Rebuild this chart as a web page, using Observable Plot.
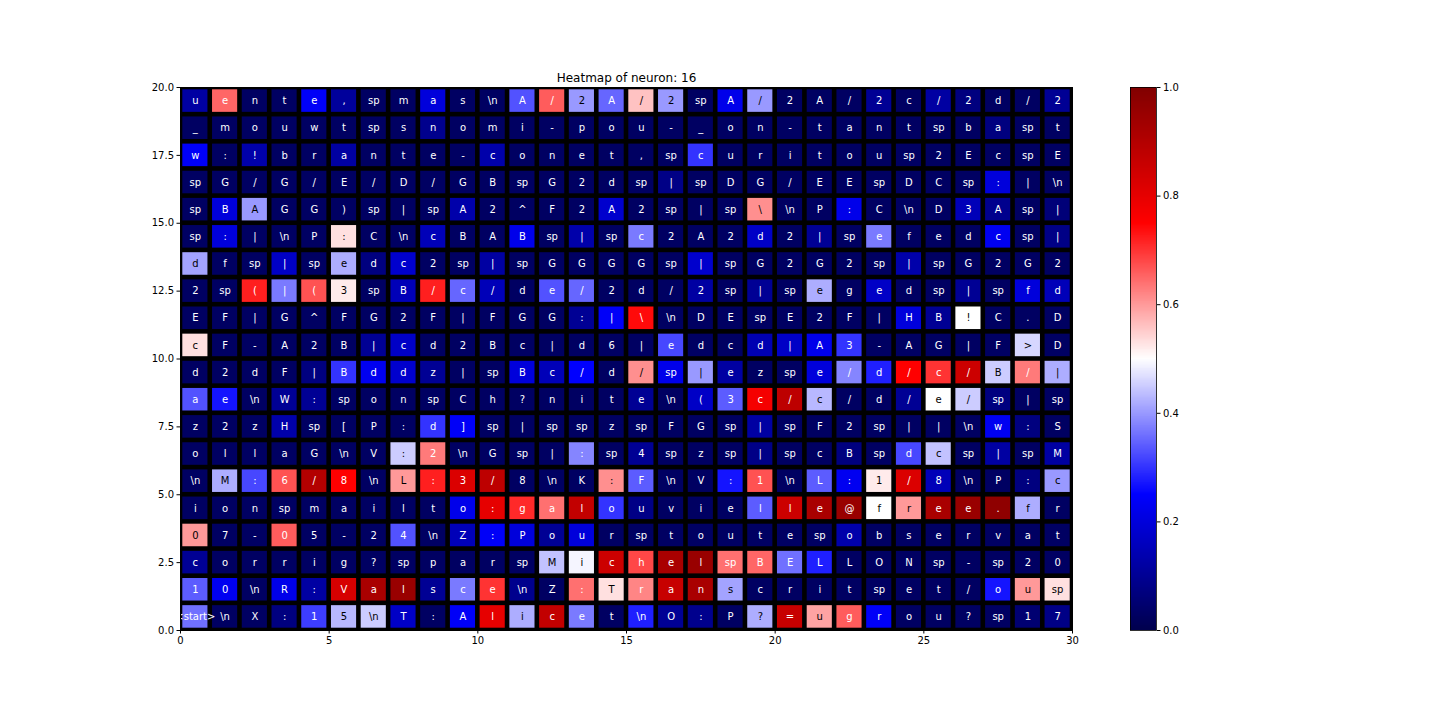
<!DOCTYPE html>
<html>
<head>
<meta charset="utf-8">
<script src="https://cdn.jsdelivr.net/npm/d3@7"></script>
<script src="https://cdn.jsdelivr.net/npm/@observablehq/plot@0.6"></script>
<style>
  html, body { margin: 0; padding: 0; background: white; }
  #wrap { position: relative; width: 1440px; height: 720px; }
  #wrap svg { position: absolute; left: 0; top: 0; }
</style>
</head>
<body>
<div id="wrap"></div>
<script>
const title = "Heatmap of neuron: 16";
const xTicks = [0, 5, 10, 15, 20, 25, 30];
const yTicks = [0, 2.5, 5, 7.5, 10, 12.5, 15, 17.5, 20];
const colorbarTicks = [0, 0.2, 0.4, 0.6, 0.8, 1.0];
const seismicStops = ["#00004d", "#0000ff", "#ffffff", "#ff0000", "#800000"];

// Rows listed top (y = 19) to bottom (y = 0)
const rowLabels = [
  ["u","e","n","t","e",",","sp","m","a","s","\\n","A","/","2","A","/","2","sp","A","/","2","A","/","2","c","/","2","d","/","2"],
  ["_","m","o","u","w","t","sp","s","n","o","m","i","-","p","o","u","-","_","o","n","-","t","a","n","t","sp","b","a","sp","t"],
  ["w",":","!","b","r","a","n","t","e","-","c","o","n","e","t",",","sp","c","u","r","i","t","o","u","sp","2","E","c","sp","E"],
  ["sp","G","/","G","/","E","/","D","/","G","B","sp","G","2","d","sp","|","sp","D","G","/","E","E","sp","D","C","sp",":","|","\\n"],
  ["sp","B","A","G","G",")","sp","|","sp","A","2","^","F","2","A","2","sp","|","sp","\\","\\n","P",":","C","\\n","D","3","A","sp","|"],
  ["sp",":","|","\\n","P",":","C","\\n","c","B","A","B","sp","|","sp","c","2","A","2","d","2","|","sp","e","f","e","d","c","sp","|"],
  ["d","f","sp","|","sp","e","d","c","2","sp","|","sp","G","G","G","G","sp","|","sp","G","2","G","2","sp","|","sp","G","2","G","2"],
  ["2","sp","(","|","(","3","sp","B","/","c","/","d","e","/","2","d","/","2","sp","|","sp","e","g","e","d","sp","|","sp","f","d"],
  ["E","F","|","G","^","F","G","2","F","|","F","G","G",":","|","\\","\\n","D","E","sp","E","2","F","|","H","B","!","C",".","D"],
  ["c","F","-","A","2","B","|","c","d","2","B","c","|","d","6","|","e","d","c","d","|","A","3","-","A","G","|","F",">","D"],
  ["d","2","d","F","|","B","d","d","z","|","sp","B","c","/","d","/","sp","|","e","z","sp","e","/","d","/","c","/","B","/","|"],
  ["a","e","\\n","W",":","sp","o","n","sp","C","h","?","n","i","t","e","\\n","(","3","c","/","c","/","d","/","e","/","sp","|","sp"],
  ["z","2","z","H","sp","[","P",":","d","]","sp","|","sp","sp","z","sp","F","G","sp","|","sp","F","2","sp","|","|","\\n","w",":","S"],
  ["o","l","l","a","G","\\n","V",":","2","\\n","G","sp","|",":","sp","4","sp","z","sp","|","sp","c","B","sp","d","c","sp","|","sp","M"],
  ["\\n","M",":","6","/","8","\\n","L",":","3","/","8","\\n","K",":","F","\\n","V",":","1","\\n","L",":","1","/","8","\\n","P",":","c"],
  ["i","o","n","sp","m","a","i","l","t","o",":","g","a","l","o","u","v","i","e","l","l","e","@","f","r","e","e",".","f","r"],
  ["0","7","-","0","5","-","2","4","\\n","Z",":","P","o","u","r","sp","t","o","u","t","e","sp","o","b","s","e","r","v","a","t"],
  ["c","o","r","r","i","g","?","sp","p","a","r","sp","M","i","c","h","e","l","sp","B","E","L","L","O","N","sp","-","sp","2","0"],
  ["1","0","\\n","R",":","V","a","l","s","c","e","\\n","Z",":","T","r","a","n","s","c","r","i","t","sp","e","t","/","o","u","sp"],
  ["<start>","\\n","X",":","1","5","\\n","T",":","A","l","i","c","e","t","\\n","O",":","P","?","=","u","g","r","o","u","?","sp","1","7"]
];

const rowValues = [
  [0.12,0.65,0.03,0.03,0.24,0.11,0.03,0.03,0.2,0.03,0.03,0.33,0.66,0.4,0.35,0.56,0.4,0.03,0.22,0.4,0.03,0.03,0.03,0.1,0.03,0.12,0.07,0.03,0.03,0.1],
  [0.03,0.03,0.03,0.03,0.03,0.03,0.03,0.03,0.09,0.03,0.03,0.03,0.03,0.03,0.03,0.03,0.03,0.03,0.03,0.03,0.03,0.03,0.03,0.03,0.03,0.03,0.03,0.07,0.03,0.03],
  [0.24,0.03,0.13,0.03,0.03,0.12,0.03,0.03,0.03,0.03,0.13,0.03,0.03,0.03,0.03,0.03,0.03,0.3,0.03,0.03,0.03,0.03,0.03,0.03,0.03,0.03,0.03,0.03,0.03,0.03],
  [0.03,0.03,0.03,0.03,0.03,0.03,0.03,0.03,0.03,0.03,0.03,0.03,0.03,0.03,0.03,0.03,0.08,0.03,0.03,0.03,0.03,0.03,0.03,0.03,0.03,0.03,0.03,0.2,0.03,0.03],
  [0.03,0.2,0.4,0.03,0.03,0.03,0.03,0.03,0.03,0.13,0.03,0.03,0.03,0.03,0.18,0.03,0.03,0.03,0.03,0.61,0.03,0.03,0.22,0.03,0.03,0.03,0.15,0.09,0.03,0.06],
  [0.03,0.2,0.03,0.03,0.03,0.53,0.03,0.03,0.15,0.03,0.03,0.22,0.03,0.13,0.03,0.37,0.03,0.03,0.03,0.17,0.03,0.1,0.03,0.37,0.03,0.03,0.03,0.23,0.03,0.08],
  [0.41,0.03,0.03,0.17,0.03,0.42,0.07,0.18,0.03,0.03,0.12,0.03,0.03,0.03,0.03,0.03,0.03,0.18,0.03,0.03,0.03,0.03,0.03,0.03,0.13,0.03,0.03,0.03,0.03,0.03],
  [0.03,0.03,0.72,0.37,0.67,0.52,0.03,0.15,0.72,0.35,0.15,0.03,0.33,0.35,0.03,0.03,0.03,0.12,0.03,0.1,0.03,0.42,0.03,0.17,0.03,0.03,0.1,0.03,0.2,0.15],
  [0.03,0.03,0.03,0.03,0.03,0.03,0.03,0.03,0.03,0.03,0.03,0.03,0.03,0.1,0.24,0.74,0.03,0.03,0.03,0.03,0.03,0.03,0.03,0.03,0.2,0.1,0.5,0.03,0.03,0.03],
  [0.53,0.03,0.03,0.03,0.03,0.03,0.1,0.17,0.03,0.03,0.03,0.03,0.03,0.03,0.03,0.03,0.32,0.03,0.03,0.14,0.17,0.22,0.3,0.03,0.03,0.03,0.03,0.03,0.46,0.03],
  [0.03,0.03,0.03,0.03,0.07,0.3,0.23,0.18,0.1,0.03,0.03,0.2,0.15,0.25,0.03,0.61,0.22,0.4,0.12,0.03,0.03,0.2,0.38,0.28,0.75,0.7,0.85,0.45,0.63,0.42],
  [0.33,0.27,0.03,0.1,0.1,0.03,0.03,0.03,0.03,0.03,0.03,0.03,0.03,0.03,0.03,0.1,0.03,0.17,0.34,0.77,0.88,0.43,0.03,0.03,0.1,0.5,0.45,0.07,0.03,0.03],
  [0.03,0.03,0.03,0.13,0.03,0.03,0.03,0.03,0.3,0.24,0.03,0.03,0.03,0.03,0.03,0.03,0.03,0.03,0.03,0.12,0.03,0.03,0.03,0.03,0.03,0.03,0.03,0.23,0.07,0.03],
  [0.03,0.03,0.03,0.03,0.03,0.03,0.03,0.45,0.63,0.03,0.03,0.03,0.03,0.38,0.03,0.1,0.03,0.03,0.03,0.08,0.03,0.03,0.07,0.03,0.32,0.44,0.03,0.12,0.03,0.12],
  [0.03,0.42,0.32,0.67,0.9,0.75,0.03,0.6,0.72,0.82,0.88,0.03,0.03,0.03,0.61,0.34,0.03,0.03,0.27,0.67,0.03,0.34,0.23,0.52,0.82,0.15,0.03,0.03,0.07,0.4],
  [0.03,0.03,0.03,0.03,0.03,0.03,0.03,0.03,0.03,0.22,0.8,0.71,0.64,0.87,0.3,0.08,0.03,0.03,0.03,0.34,0.85,0.92,0.95,0.5,0.6,0.92,0.95,0.97,0.42,0.03],
  [0.6,0.03,0.03,0.66,0.03,0.03,0.03,0.33,0.03,0.15,0.24,0.2,0.1,0.2,0.03,0.03,0.03,0.03,0.03,0.03,0.03,0.03,0.13,0.03,0.03,0.03,0.03,0.03,0.03,0.03],
  [0.1,0.03,0.03,0.03,0.03,0.03,0.03,0.03,0.03,0.03,0.03,0.03,0.44,0.49,0.85,0.68,0.92,0.95,0.64,0.65,0.36,0.28,0.03,0.03,0.03,0.03,0.03,0.03,0.03,0.03],
  [0.34,0.23,0.03,0.22,0.12,0.83,0.92,0.95,0.1,0.37,0.7,0.09,0.03,0.64,0.53,0.62,0.86,0.92,0.41,0.03,0.03,0.03,0.03,0.03,0.03,0.03,0.03,0.27,0.6,0.53],
  [0.36,0.03,0.03,0.07,0.31,0.43,0.45,0.17,0.03,0.24,0.8,0.42,0.87,0.37,0.03,0.28,0.1,0.09,0.03,0.42,0.86,0.59,0.66,0.24,0.03,0.03,0.03,0.03,0.05,0.08]
];

const nRows = rowLabels.length;
const cells = [];
rowLabels.forEach((labels, r) => {
  labels.forEach((label, c) => {
    cells.push({col: c, row: nRows - 1 - r, label, value: rowValues[r][c]});
  });
});

const seismicPiece = d3.piecewise(d3.interpolateRgb, seismicStops);
const seismic = (t) => seismicPiece(Math.max(0, Math.min(1, t)));
const colorScale = {type: "linear", domain: [0, 1], interpolate: (t) => seismic(t)};
const textColor = (v) => (Math.abs(v - 0.5) < 0.115 ? "black" : "white");

const fontFamily = "'DejaVu Sans', sans-serif";
const tickFont = 10;
const cellFont = 10;
const titleFont = 12;

const main = Plot.plot({
  width: 1440,
  height: 720,
  marginLeft: 180,
  marginRight: 368,
  marginTop: 87,
  marginBottom: 90,
  x: {domain: [0, 30]},
  y: {domain: [0, 20]},
  color: colorScale,
  style: {fontFamily, fontSize: tickFont + "px", background: "white", color: "black"},
  marks: [
    Plot.frame({fill: "black"}),
    Plot.rect(cells, {x1: "col", x2: (d) => d.col + 1, y1: "row", y2: (d) => d.row + 1, fill: "value", inset: 2.3}),
    Plot.text(cells, {
      x: (d) => d.col + 0.5, y: (d) => d.row + 0.5, text: "label",
      fill: (d) => textColor(d.value), fontSize: cellFont, fontFamily
    }),
    Plot.axisX({ticks: xTicks, tickSize: 3.5, tickPadding: 3, label: null, tickFormat: (d) => String(d), fontSize: tickFont}),
    Plot.axisY({ticks: yTicks, tickSize: 3.5, tickPadding: 3, label: null, tickFormat: (d) => d.toFixed(1), fontSize: tickFont}),
    Plot.frame({stroke: "black", strokeWidth: 1}),
    Plot.text([title], {frameAnchor: "top", lineAnchor: "bottom", dy: -6, fontSize: titleFont, fontFamily, fill: "black"})
  ]
});

const step = 1 / 600;
const gradient = d3.range(0, 1, step);
const colorbar = Plot.plot({
  width: 1440,
  height: 720,
  marginLeft: 1130,
  marginRight: 284,
  marginTop: 87,
  marginBottom: 90,
  x: {domain: [0, 1], axis: null},
  y: {domain: [0, 1]},
  color: colorScale,
  style: {fontFamily, fontSize: tickFont + "px", background: "transparent", color: "black"},
  marks: [
    Plot.rect(gradient, {y1: (d) => d, y2: (d) => Math.min(1, d + step * 1.6), fill: (d) => d + step / 2, shapeRendering: "crispEdges"}),
    Plot.axisY({anchor: "right", ticks: colorbarTicks, tickSize: 3.5, tickPadding: 3, label: null, tickFormat: (d) => d.toFixed(1), fontSize: tickFont}),
    Plot.frame({stroke: "black", strokeWidth: 0.8})
  ]
});

const wrap = document.getElementById("wrap");
wrap.appendChild(main);
wrap.appendChild(colorbar);
</script>
</body>
</html>
